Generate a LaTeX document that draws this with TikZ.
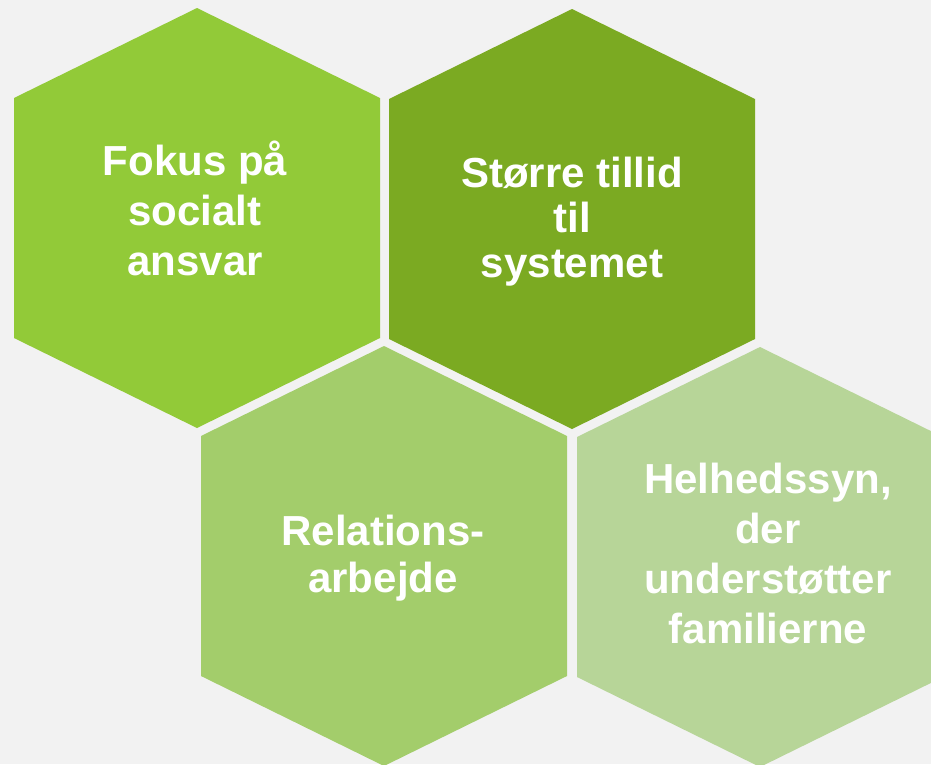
\documentclass[tikz,border=0pt]{standalone}
\usepackage{fontspec}
\setmainfont{Liberation Sans}
\usepackage{tikz}
\usetikzlibrary{calc}
\definecolor{bgcol}{RGB}{242,242,242}
\definecolor{hexa}{RGB}{146,202,56}
\definecolor{hexb}{RGB}{123,170,34}
\definecolor{hexc}{RGB}{163,205,107}
\definecolor{hexd}{RGB}{183,213,152}
\tikzset{
    hextext/.style={text=white, align=center, inner sep=0pt, anchor=base, font=\bfseries\fontsize{42}{#1}\selectfont}
}
\begin{document}
\begin{tikzpicture}[x=1pt,y=-1pt]
\useasboundingbox (0,0) rectangle (931,764);
\fill[bgcol] (0,0) rectangle (931,764);
\clip (0,0) rectangle (931,764);
\foreach \cx/\cy/\col/\h in {197/218/hexa/fokus, 572/219/hexb/tillid, 384/556/hexc/relation, 760/557/hexd/helhed}{
    \coordinate (\h) at (\cx,\cy);
    \fill[\col] (\h) ++(0,-210) -- ++(183,90) -- ++(0,240) -- ++(-183,90) -- ++(-183,-90) -- ++(0,-240) -- cycle;
}
% base anchor sits on the last line
\node[hextext=50] (fokustxt) at (195,275) {Fokus på\\socialt\\ansvar};
\node[hextext=45] (tillidtxt) at (572,277) {Større tillid\\til\\systemet};
\node[hextext=47] (relationtxt) at (383,592) {Relations-\\arbejde};
\node[hextext=50] (helhedtxt) at (768,643) {Helhedssyn,\\der\\understøtter\\familierne};
\end{tikzpicture}
\end{document}
